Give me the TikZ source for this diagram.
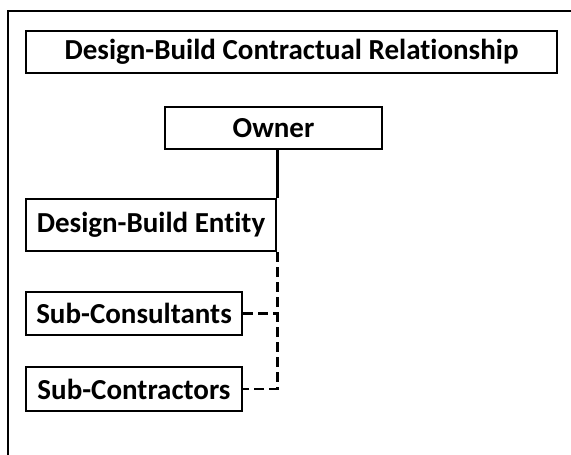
\documentclass[tikz,border=0pt]{standalone}
\usepackage{fontspec}
\setmainfont{Carlito}[Ligatures=NoCommon]
\usepackage{tikz}
\usetikzlibrary{positioning}
\tikzset{link/.style = {dash pattern=on 10pt off 5pt}}

\begin{document}
\begin{tikzpicture}[x=1pt,y=-1pt,line width=2.5pt,main node/.style={rectangle,draw,inner sep=0pt,font=\bfseries\fontsize{29}{34}\selectfont}]
                \useasboundingbox (0,0) rectangle (571,455);
                \draw (8,455) |- (571,11);

                \node[main node,minimum width=531pt,minimum height=42pt] (1) at (291.5,52) {Design-Build Contractual Relationship};
                \node[main node,minimum width=217pt,minimum height=42pt] (2) at (273.5,128) {Owner};
                \node[main node,minimum width=250pt,minimum height=52pt] (3) at (151,225) {Design-Build Entity};
                \node[main node,minimum width=216pt,minimum height=43pt] (4) at (134,313.5) {Sub-Consultants};
                \node[main node,minimum width=216pt,minimum height=44pt] (5) at (134,389) {Sub-Contractors};

                \draw (3.north east) -- (3.north east |- 2.south);
                \draw[link] (3.south east) |- (5.east);
                \draw[link] (4.east) -- (4.east -| 3.east);
            \end{tikzpicture}
\end{document}
